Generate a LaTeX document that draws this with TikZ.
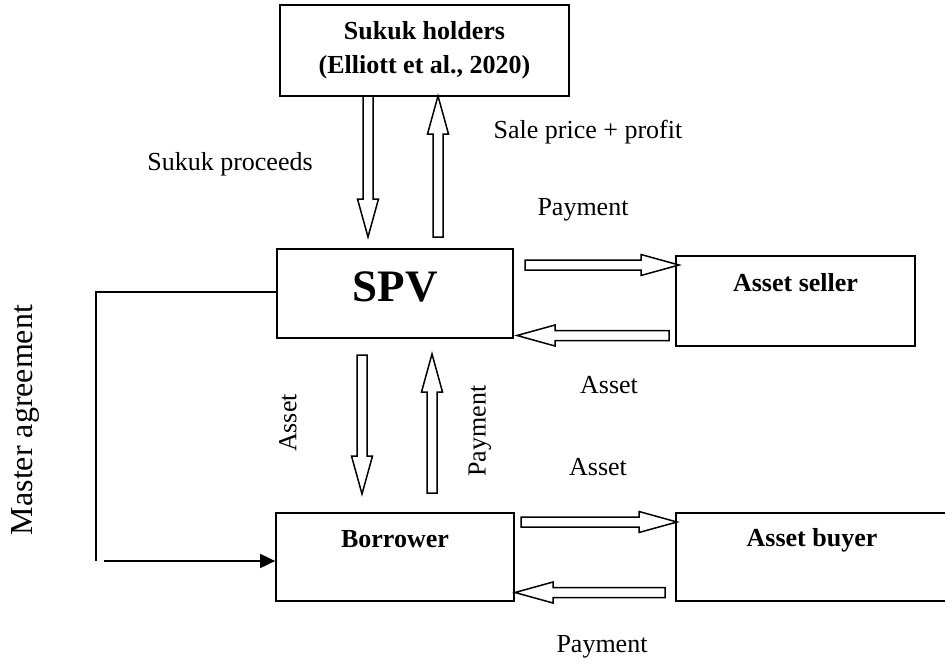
\documentclass[tikz,border=0pt]{standalone}
\usepackage{fontspec}
\setmainfont{Liberation Serif}
\usetikzlibrary{calc,arrows.meta}

% Hollow block arrow from #1 to #2 (tip at #2)
\newcommand\fatarrow[2]{%
  \draw[fat] let \p1=(#1), \p2=(#2),
      \n1={atan2(\y2-\y1,\x2-\x1)},
      \n2={veclen(\x2-\x1,\y2-\y1)-38}
    in ($(\p1)+(\n1+90:5pt)$)
    -- ($(\p1)+(\n1:{\n2*1pt})+(\n1+90:5pt)$)
    -- ($(\p1)+(\n1:{\n2*1pt})+(\n1+90:10.5pt)$)
    -- (\p2)
    -- ($(\p1)+(\n1:{\n2*1pt})+(\n1-90:10.5pt)$)
    -- ($(\p1)+(\n1:{\n2*1pt})+(\n1-90:5pt)$)
    -- ($(\p1)+(\n1-90:5pt)$) -- cycle;}

\begin{document}
\begin{tikzpicture}[x=1pt,y=-1pt,
  box/.style={draw,line width=1.7pt,inner sep=0pt},
  title/.style={font=\fontsize{26}{34}\selectfont\bfseries,align=center,inner sep=0pt},
  lbl/.style={font=\fontsize{26}{30}\selectfont,inner sep=0pt},
  fat/.style={draw,line width=1.5pt,fill=white,line join=miter},
  link/.style={line width=1.7pt}]
\useasboundingbox (0,0) rectangle (945,662);

% parties
\node[box,minimum width=289pt,minimum height=91pt] (sukuk) at (424.5,50.5) {};
\node[title] (sukukt) at (424.5,50) {Sukuk holders\\(Elliott et al., 2020)};

\node[box,minimum width=236pt,minimum height=89pt] (spv) at (395,293.5) {};
\node[font=\fontsize{45}{50}\selectfont\bfseries,inner sep=0pt] (spvt) at (395,287) {SPV};

\node[box,minimum width=239pt,minimum height=90pt] (seller) at (795.5,301) {};
\node[title] (sellert) at (795.5,283) {Asset seller};

\node[box,minimum width=238pt,minimum height=88pt] (borrower) at (395,557) {};
\node[title] (borrowert) at (395,539) {Borrower};

\node[box,minimum width=274pt,minimum height=88pt] (buyer) at (813,557) {};
\node[title] (buyert) at (812,540) {Asset buyer};

% flow labels
\node[lbl] (lproc) at (230,164) {Sukuk proceeds};
\node[lbl] (lsale) at (588,132) {Sale price + profit};
\node[lbl] (lpay1) at (583,210) {Payment};
\node[lbl] (lasset1) at (609,385) {Asset};
\node[lbl] (lasset2) at (598,467) {Asset};
\node[lbl] (lpay2) at (602,647) {Payment};
\node[lbl,rotate=90] (lasset3) at (288,423) {Asset};
\node[lbl,rotate=90] (lpay3) at (480,431) {Payment};
\node[font=\fontsize{32}{36}\selectfont,rotate=90,inner sep=0pt] (lmaster) at (25,420) {Master agreement};

% arrow end points
\coordinate (d1a) at (368,96);   \coordinate (d1b) at (368,237);
\coordinate (u1a) at (438,237);  \coordinate (u1b) at (438,96);
\coordinate (d2a) at (362,355);  \coordinate (d2b) at (362,494);
\coordinate (u2a) at (432,493);  \coordinate (u2b) at (432,354);
\coordinate (h1a) at (525,265);  \coordinate (h1b) at (679,265);
\coordinate (h2a) at (669,335.5);\coordinate (h2b) at (517,335.5);
\coordinate (h3a) at (521,522);  \coordinate (h3b) at (677,522);
\coordinate (h4a) at (665,592.5);\coordinate (h4b) at (515,592.5);

\fatarrow{d1a}{d1b}
\fatarrow{u1a}{u1b}
\fatarrow{d2a}{d2b}
\fatarrow{u2a}{u2b}
\fatarrow{h1a}{h1b}
\fatarrow{h2a}{h2b}
\fatarrow{h3a}{h3b}
\fatarrow{h4a}{h4b}

% master agreement link
\coordinate (mcorner) at (96,292);
\coordinate (mend) at (96,561);
\coordinate (mstart) at (104,561);
\draw[link] (spv.west |- mcorner) -- (mcorner) -- (mend);
\draw[link,-{Triangle[length=15pt,width=14pt]}] (mstart) -- (mstart -| borrower.west);
\end{tikzpicture}
\end{document}
